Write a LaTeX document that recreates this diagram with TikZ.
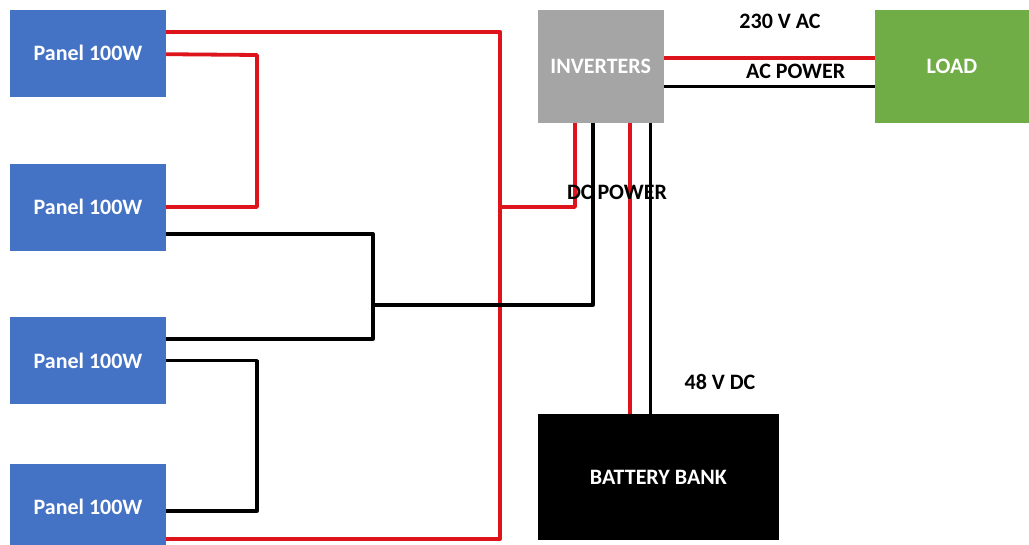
\documentclass[tikz,border=0pt]{standalone}
\usepackage{fontspec}
\setmainfont{Carlito}
\definecolor{panelblue}{HTML}{4472C4}
\definecolor{invgray}{HTML}{A5A5A5}
\definecolor{loadgreen}{HTML}{70AD47}
\definecolor{wirered}{RGB}{222,20,28}
\begin{document}
\begin{tikzpicture}[x=1pt,y=-1pt,
  box/.style={draw=none,inner sep=0pt,font=\fontsize{22}{26}\selectfont\bfseries,text=white},
  panel/.style={box,fill=panelblue,minimum width=155.7pt,minimum height=87pt},
  rw/.style={draw=wirered,line width=3.8pt,line join=round},
  bw/.style={draw=black,line width=3.3pt,line join=round},
  lbl/.style={inner sep=0pt,font=\fontsize{22}{26}\selectfont\bfseries,text=black}]
\useasboundingbox (0,0) rectangle (1029,544);
\fill[white] (0,0) rectangle (1029,544);
% panels
\node[panel] (p1) at (88,53.2) {Panel 100W};
\node[panel] (p2) at (88,207) {Panel 100W};
\node[panel] (p3) at (88,360.7) {Panel 100W};
\node[panel] (p4) at (88,507) {Panel 100W};
% inverter, load, battery
\node[box,fill=invgray,minimum width=126pt,minimum height=113pt] (inv) at (600.7,66.2) {INVERTERS};
\node[box,fill=loadgreen,minimum width=154pt,minimum height=113pt] (load) at (952,66.2) {LOAD};
\node[box,fill=black,minimum width=241.3pt,minimum height=126.3pt] (bat) at (658.4,476.9) {BATTERY BANK};
% junction coordinates
\coordinate (rbus) at (500,31.7);
\coordinate (rj) at (500,207);
\coordinate (r12) at (257,55);
\coordinate (bj) at (373,234);
\coordinate (bj2) at (373,305);
\coordinate (b34) at (257,360.7);
% wires
\draw[rw] ([yshift=21.5pt]p1.east) -- (rbus) |- ([yshift=-31.7pt]p4.east);
\draw[rw] ([yshift=-1pt]p1.east) -- (r12) |- (p2.east);
\draw[rw] (rj) -| ([xshift=-25.7pt]inv.south);
\draw[bw] ([yshift=-27pt]p2.east) -- (bj) |- ([yshift=21.7pt]p3.east);
\draw[bw] (bj2) -| ([xshift=-7.7pt]inv.south);
\draw[bw] (p3.east) -- (b34) |- ([yshift=-4pt]p4.east);
\draw[rw] ([xshift=29.3pt]inv.south) -- ([xshift=29.3pt]inv.south |- bat.north);
\draw[bw] ([xshift=50pt]inv.south) -- ([xshift=50pt]inv.south |- bat.north);
\draw[rw] ([yshift=7.9pt]inv.east) -- ([yshift=7.9pt]inv.east -| load.west);
\draw[bw] ([yshift=-20.5pt]inv.east) -- ([yshift=-20.5pt]inv.east -| load.west);
% labels
\node[lbl] (l230) at (780,21) {230 V AC};
\node[lbl] (lac) at (795.7,71) {AC POWER};
\node[lbl] (ldc) at (617,192.7) {DC POWER};
\node[lbl] (l48) at (720,382) {48 V DC};
\end{tikzpicture}
\end{document}
